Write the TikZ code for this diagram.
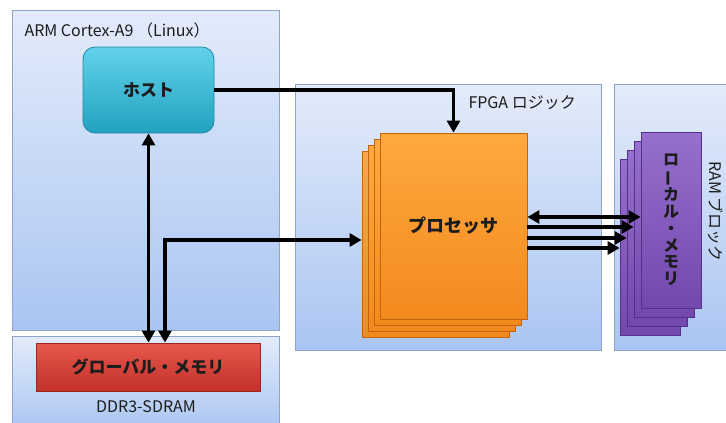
\documentclass[tikz,border=0pt]{standalone}
\usepackage{fontspec}
\setmainfont{Noto Sans CJK JP}
\usetikzlibrary{arrows.meta}

\definecolor{areatop}{HTML}{E3EBFA}
\definecolor{areabot}{HTML}{AAC5F2}
\definecolor{areaedge}{HTML}{8FA5C6}
\definecolor{hosttop}{HTML}{62D2EA}
\definecolor{hostbot}{HTML}{22A2C0}
\definecolor{hostedge}{HTML}{1E88A4}
\definecolor{proctop}{HTML}{FFA93E}
\definecolor{procbot}{HTML}{F38A1E}
\definecolor{procedge}{HTML}{C2650E}
\definecolor{globtop}{HTML}{E9584D}
\definecolor{globbot}{HTML}{C1302A}
\definecolor{globedge}{HTML}{9C2620}
\definecolor{localtop}{HTML}{9670CE}
\definecolor{localbot}{HTML}{7248AC}
\definecolor{localedge}{HTML}{553287}
\definecolor{ink}{HTML}{1C1C1C}

\tikzset{
	area/.style = {draw = areaedge, line width = 0.8pt, top color = areatop, bottom color = areabot, anchor = north west, inner sep = 0pt},
	hostbox/.style = {draw = hostedge, line width = 0.8pt, rounded corners = 12pt, top color = hosttop, bottom color = hostbot, minimum width = 131pt, minimum height = 86pt},
	procbox/.style = {draw = procedge, line width = 0.8pt, top color = proctop, bottom color = procbot, minimum width = 147pt, minimum height = 186pt},
	globbox/.style = {draw = globedge, line width = 0.8pt, top color = globtop, bottom color = globbot, minimum width = 224pt, minimum height = 48pt},
	localbox/.style = {draw = localedge, line width = 0.8pt, top color = localtop, bottom color = localbot, minimum width = 60pt, minimum height = 176pt},
	conn/.style = {line width = 3.8pt, >={Triangle[length = 12pt, width = 13pt]}}
}

\begin{document}
\begin{tikzpicture}[x = 1pt, y = -1pt, text = ink, font = \fontsize{16}{18}\selectfont]
			\useasboundingbox (0,0) rectangle (726,423);
			\clip (0,0) rectangle (726,423);

			\node[area, minimum width = 267pt, minimum height = 320pt] (arm) at (12,10) {};
			\node[area, minimum width = 267pt, minimum height = 94pt] (ddr) at (12,336) {};
			\node[area, minimum width = 306pt, minimum height = 266pt] (fpga) at (295,84) {};
			\node[area, minimum width = 126pt, minimum height = 266pt] (ram) at (614,84) {};

			\node[anchor = west] (armlabel) at (21,30) {ARM Cortex-A9 （Linux）};
			\node (ddrlabel) at (146,407) {DDR3-SDRAM};
			\node[anchor = west] (fpgalabel) at (465,103) {FPGA ロジック};
			\node[anchor = west, rotate = -90, inner sep = 1pt] (ramlabel) at (716,160) {RAM ブロック};

			\node[hostbox, font = \bfseries\fontsize{17}{19}\selectfont] (host) at (148.5,90) {ホスト};
			\node[globbox, font = \bfseries\fontsize{17}{19}\selectfont] (global) at (148,367) {グローバル・メモリ};

			\foreach \i in {3,2,1}
				\node[procbox] (proc\i) at (453.5-6*\i,226+6*\i) {};
			\node[procbox, font = \bfseries\fontsize{18}{20}\selectfont] (proc) at (453.5,226) {プロセッサ};

			\foreach \i in {3,2,1}
				\node[localbox] (local\i) at (671-7*\i,220+9*\i) {};
			\node[localbox, align = center, font = \bfseries\fontsize{16}{16.8}\selectfont] (local) at (671,220)
				{ロ\\\rotatebox[origin = c]{90}{ー}\\カ\\ル\\・\\メ\\モ\\リ};

			\begin{scope}[conn]
				\draw[->] (host.east) -| (proc.north);
				\draw[<->] (host.south) -- (host.south |- global.north);
				\draw[<->] (global.north -| 165,0) |- (proc3.west |- 0,240);
				\draw[<->] (proc.east |- 0,217) -- (local.west |- 0,217);
				\foreach \n/\y in {1/227,2/238,3/248}
					\draw[->] (proc.east |- 0,\y) -- (local\n.west |- 0,\y);
			\end{scope}
		\end{tikzpicture}
\end{document}
